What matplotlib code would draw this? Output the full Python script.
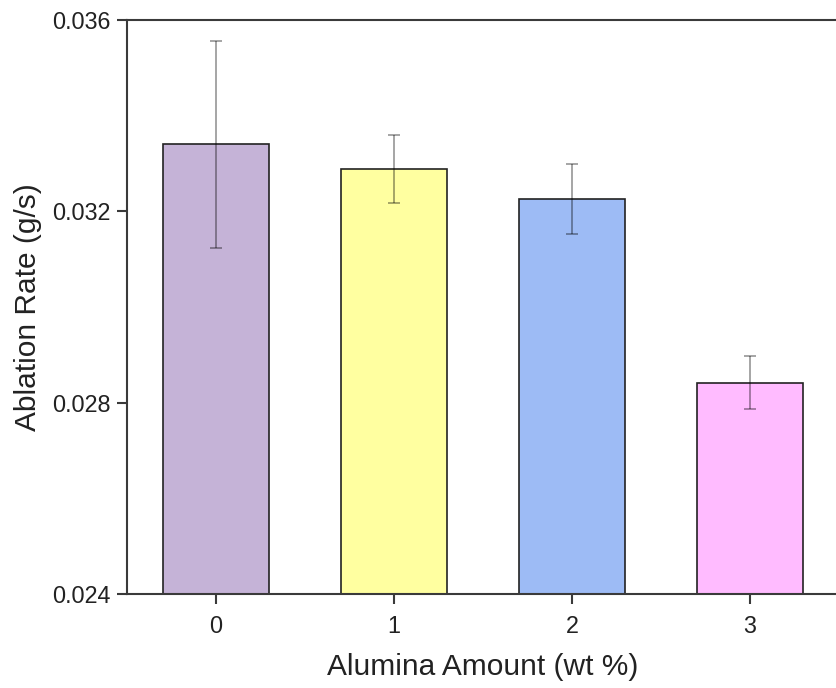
import matplotlib
matplotlib.use("Agg")
import matplotlib.pyplot as plt

categories = ["0", "1", "2", "3"]
rates = [0.03340, 0.03289, 0.03225, 0.02842]
errors = [0.00216, 0.00071, 0.00073, 0.00055]
colors = ["#C5B3D7", "#FFFFA0", "#9DBBF5", "#FFBBFF"]
yticks = [0.024, 0.028, 0.032, 0.036]

plt.rcParams['font.family'] = ['Liberation Sans', 'DejaVu Sans']

fig = plt.figure(figsize=(8.37, 6.88), dpi=100)
ax = fig.add_axes([127/837, 94/688, 712/837, 574/688])

x = list(range(len(categories)))
ax.bar(x, rates, width=0.6, color=colors, edgecolor="#222222", linewidth=1.2, zorder=2)
ax.errorbar(x, rates, yerr=errors, fmt='none', ecolor=(0, 0, 0, 0.45),
            elinewidth=1.1, capsize=4, capthick=1.1, zorder=3)

ax.set_xlim(-0.5, 3.5)
ax.set_ylim(0.024, 0.036)
ax.set_xticks(x)
ax.set_xticklabels(categories)
ax.set_yticks(yticks)
ax.set_yticklabels([f"{v:.3f}" for v in yticks])

for s in ax.spines.values():
    s.set_linewidth(1.5)
    s.set_color("#3a3a3a")

ax.tick_params(axis='both', direction='out', length=7, width=1.5, color="#3a3a3a",
               labelsize=16.8, labelcolor="#222222")
ax.tick_params(axis='y', pad=5)
ax.tick_params(axis='x', pad=8)

ax.set_xlabel("Alumina Amount (wt %)", fontsize=21.5, color="#222222", labelpad=11)
ax.set_ylabel("Ablation Rate (g/s)", fontsize=21.5, color="#222222", labelpad=7)

fig.savefig("out.png", dpi=100)
